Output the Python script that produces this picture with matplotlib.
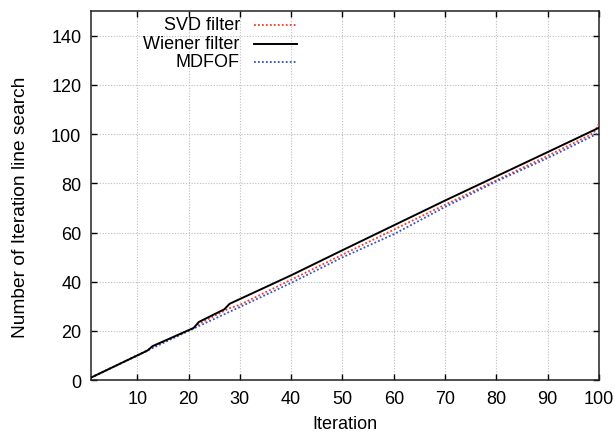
import numpy as np
import matplotlib
matplotlib.use('Agg')
import matplotlib.pyplot as plt

plt.rcParams['font.family'] = ['Liberation Sans', 'DejaVu Sans']

# readings
wiener_x = [1, 12, 13, 21, 22, 27, 28, 40, 50, 70, 90, 100]
wiener_y = [1, 12, 13.8, 21.2, 23.6, 28.8, 31.0, 42.6, 52.8, 73.0, 92.7, 102.6]

svd_x = [1, 12, 13, 21, 22, 28, 30, 40, 50, 70, 90, 98, 99, 100]
svd_y = [1, 12, 13.5, 21.0, 22.8, 29.2, 30.6, 40.8, 51.0, 71.3, 91.2, 99.4, 100.6, 104.3]

mdfof_x = [1, 12, 20, 30, 40, 50, 60, 70, 80, 90, 100]
mdfof_y = [1, 12, 20.0, 29.7, 39.5, 49.9, 59.3, 70.4, 80.8, 90.3, 100.5]

xticks = [10, 20, 30, 40, 50, 60, 70, 80, 90, 100]
yticks = [0, 20, 40, 60, 80, 100, 120, 140]

PlotColors = {
    'svd': '#f03c2a',
    'wiener': 'black',
    'mdfof': '#3450c8',
}

fig = plt.figure(figsize=(6.15, 4.35), dpi=100)
ax = fig.add_axes([0.148, 0.124, 0.826, 0.848])

dot = (0, (1, 1.2))
ax.plot(svd_x, svd_y, color=PlotColors['svd'], linewidth=1.3, linestyle=dot, zorder=3)
ax.plot(mdfof_x, mdfof_y, color=PlotColors['mdfof'], linewidth=1.3, linestyle=dot, zorder=3)
ax.plot(wiener_x, wiener_y, color=PlotColors['wiener'], linewidth=1.4, zorder=4)

ax.set_xlim(1, 100)
ax.set_ylim(0, 150)
ax.set_xticks(xticks)
ax.set_yticks(yticks)
ax.grid(True, color='#bdbdbd', linestyle=(0, (1, 1.5)), linewidth=0.8)
ax.tick_params(direction='in', length=4, width=1, top=True, right=True,
               labelsize=13, pad=7)
for s in ax.spines.values():
    s.set_linewidth(1.1)
    s.set_color('#222222')

ax.set_xlabel('Iteration', fontsize=13, labelpad=6)
ax.set_ylabel('Number of Iteration line search', fontsize=13.8)
ax.yaxis.set_label_coords(-0.122, 0.472)

# gnuplot style key: text right aligned, sample line to the right
key = [('SVD filter', 'svd', dot), ('Wiener filter', 'wiener', '-'), ('MDFOF', 'mdfof', dot)]
rows = [0.963, 0.912, 0.863]
for (label, k, ls), yk in zip(key, rows):
    ax.text(0.293, yk, label, transform=ax.transAxes, ha='right', va='center', fontsize=13)
    ax.plot([0.321, 0.406], [yk, yk], transform=ax.transAxes, color=PlotColors[k],
            linestyle=ls, linewidth=1.3 if k != 'wiener' else 1.4)

plt.savefig('out.png', dpi=100)
